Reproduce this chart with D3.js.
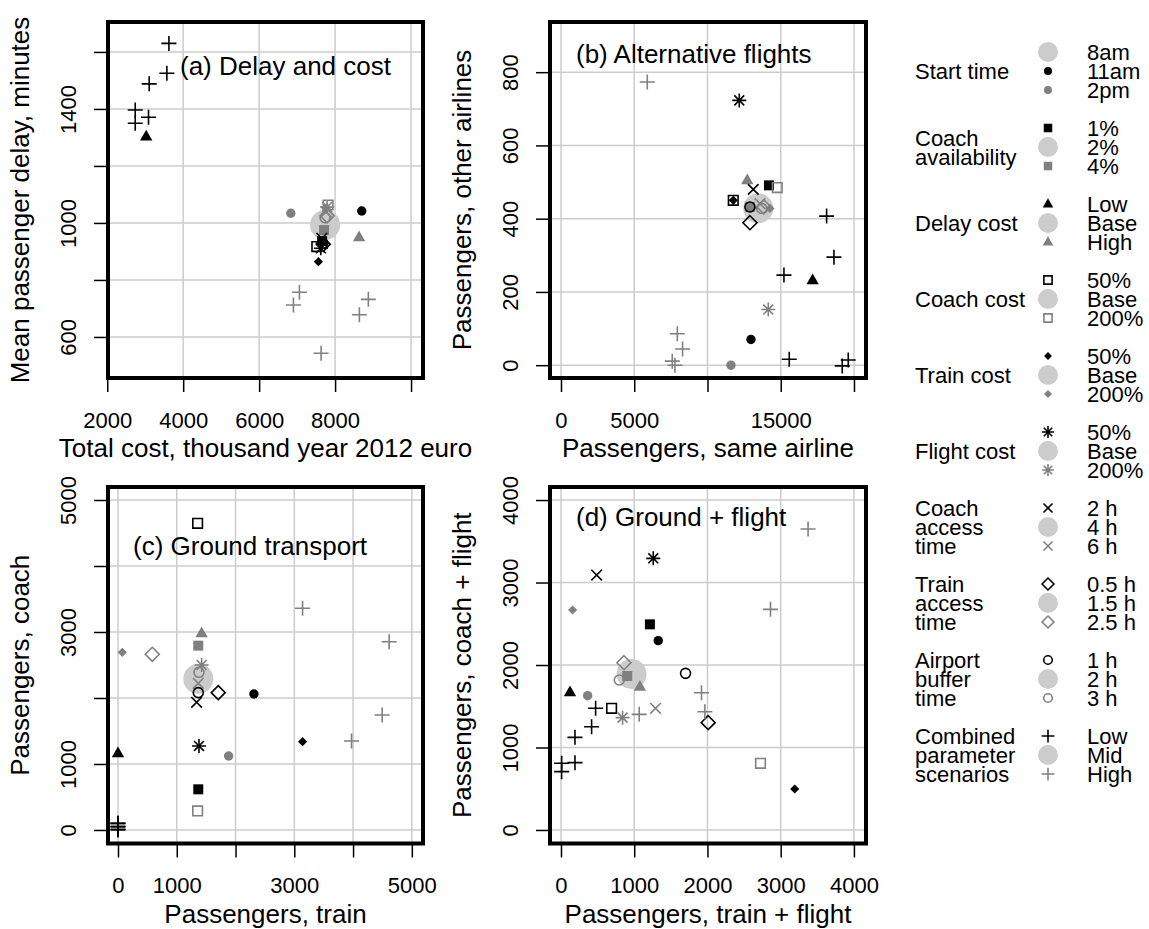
<!DOCTYPE html>
<html>
<head>
<meta charset="utf-8">
<script src="https://cdn.jsdelivr.net/npm/d3@7"></script>
<style>
body { margin: 0; background: #fff; }
svg { font-family: "Liberation Sans", Arial, Helvetica, sans-serif; }
</style>
</head>
<body>
<svg id="chart" width="1149" height="929"></svg>
<script>
////////// Data
var panelTitles = ["(a) Delay and cost", "(b) Alternative flights", "(c) Ground transport", "(d) Ground + flight"];
var xTitles = ["Total cost, thousand year 2012 euro", "Passengers, same airline", "Passengers, train", "Passengers, train + flight"];
var yTitles = ["Mean passenger delay, minutes", "Passengers, other airlines", "Passengers, coach", "Passengers, coach + flight"];

var xLims = [[2020, 10315], [-750, 20820], [-170, 5190], [-150, 4165]];
var yLims = [[456, 1705], [-35, 937], [-205, 5197], [-164, 4158]];

var xTicks = [[2000, 4000, 6000, 8000, 10000], [0, 5000, 10000, 15000, 20000], [0, 1000, 2000, 3000, 4000, 5000], [0, 1000, 2000, 3000, 4000]];
var xTickLabels = [["2000", "4000", "6000", "8000", ""], ["0", "5000", "", "15000", ""], ["0", "1000", "", "3000", "", "5000"], ["0", "1000", "2000", "3000", "4000"]];
var yTicks = [[600, 800, 1000, 1200, 1400, 1600], [0, 200, 400, 600, 800], [0, 1000, 2000, 3000, 4000, 5000], [0, 1000, 2000, 3000, 4000]];
var yTickLabels = [["600", "", "1000", "", "1400", ""], ["0", "200", "400", "600", "800"], ["0", "1000", "", "3000", "", "5000"], ["0", "1000", "2000", "3000", "4000"]];

// [scenario, x, y]
var pointsA = [
  ["base", 7737, 993],
  ["start11", 8702, 1042], ["start14", 6834, 1034],
  ["avail1", 7658, 936], ["avail4", 7710, 975],
  ["delayLow", 3026, 1303], ["delayHigh", 8632, 950],
  ["coach50", 7518, 917], ["coach200", 7816, 1063],
  ["train50", 7561, 864], ["train200", 7763, 1053],
  ["flight50", 7624, 911], ["flight200", 7790, 1056],
  ["cacc2", 7650, 946], ["cacc6", 7763, 1039],
  ["tacc05", 7690, 925], ["tacc25", 7790, 1025],
  ["buf1", 7676, 929], ["buf3", 7737, 1018],
  ["comboLow", 3624, 1630], ["comboLow", 3570, 1525], ["comboLow", 3105, 1488],
  ["comboLow", 2737, 1396], ["comboLow", 2737, 1350], ["comboLow", 3087, 1371],
  ["comboHigh", 7061, 757], ["comboHigh", 6903, 712], ["comboHigh", 8640, 678],
  ["comboHigh", 8876, 732], ["comboHigh", 7632, 543]
];
var pointsB = [
  ["base", 13465, 428],
  ["start11", 12967, 70], ["start14", 11602, 0],
  ["avail1", 14195, 491], ["avail4", 12898, 432],
  ["delayLow", 17177, 232], ["delayHigh", 12714, 505],
  ["coach50", 11760, 450], ["coach200", 14763, 485],
  ["train50", 11760, 450], ["train200", 14263, 428],
  ["flight50", 12169, 723], ["flight200", 14149, 152],
  ["cacc2", 13125, 480], ["cacc6", 13581, 441],
  ["tacc05", 12898, 389], ["tacc25", 13854, 432],
  ["buf1", 12898, 432], ["buf3", 13697, 428],
  ["comboLow", 18131, 407], ["comboLow", 18631, 295], ["comboLow", 15219, 246],
  ["comboLow", 15581, 16], ["comboLow", 19198, -2], ["comboLow", 19608, 14],
  ["comboHigh", 5890, 773], ["comboHigh", 7940, 86], ["comboHigh", 8300, 44],
  ["comboHigh", 7596, 11], ["comboHigh", 7780, 0]
];
var pointsC = [
  ["base", 1366, 2288],
  ["start11", 2313, 2060], ["start14", 1882, 1121],
  ["avail1", 1366, 616], ["avail4", 1366, 2793],
  ["delayLow", 0, 1162], ["delayHigh", 1423, 2980],
  ["coach50", 1355, 4647], ["coach200", 1355, 288],
  ["train50", 3141, 1338], ["train200", 73, 2692],
  ["flight50", 1378, 1273], ["flight200", 1423, 2500],
  ["cacc2", 1338, 1934], ["cacc6", 1366, 2222],
  ["tacc05", 1706, 2081], ["tacc25", 583, 2662],
  ["buf1", 1366, 2081], ["buf3", 1378, 2389],
  ["comboLow", 0, 100], ["comboLow", 0, 100], ["comboLow", 0, 50],
  ["comboLow", 0, 50], ["comboLow", 0, 10], ["comboLow", 0, 0],
  ["comboHigh", 3141, 3359], ["comboHigh", 4614, 2853], ["comboHigh", 4495, 1742],
  ["comboHigh", 3974, 1348]
];
var pointsD = [
  ["base", 964, 1891],
  ["start11", 1328, 2295], ["start14", 364, 1628],
  ["avail1", 1214, 2493], ["avail4", 905, 1867],
  ["delayLow", 123, 1669], ["delayHigh", 1078, 1737],
  ["coach50", 691, 1475], ["coach200", 2724, 808],
  ["train50", 3192, 497], ["train200", 159, 2667],
  ["flight50", 1260, 3293], ["flight200", 841, 1362],
  ["cacc2", 487, 3091], ["cacc6", 1291, 1475],
  ["tacc05", 2010, 1301], ["tacc25", 860, 2028],
  ["buf1", 1701, 1899], ["buf3", 796, 1818],
  ["comboLow", 473, 1475], ["comboLow", 418, 1252], ["comboLow", 191, 1123],
  ["comboLow", 9, 808], ["comboLow", 191, 816], ["comboLow", 9, 707],
  ["comboHigh", 3374, 3648], ["comboHigh", 2861, 2675], ["comboHigh", 1919, 1664],
  ["comboHigh", 1965, 1434], ["comboHigh", 1068, 1402]
];
var panelPoints = [pointsA, pointsB, pointsC, pointsD];

var legendGroups = [["Start time"], ["Coach", "availability"], ["Delay cost"], ["Coach cost"], ["Train cost"],
  ["Flight cost"], ["Coach", "access", "time"], ["Train", "access", "time"], ["Airport", "buffer", "time"],
  ["Combined", "parameter", "scenarios"]];
var legendValues = [["8am", "11am", "2pm"], ["1%", "2%", "4%"], ["Low", "Base", "High"], ["50%", "Base", "200%"],
  ["50%", "Base", "200%"], ["50%", "Base", "200%"], ["2 h", "4 h", "6 h"], ["0.5 h", "1.5 h", "2.5 h"],
  ["1 h", "2 h", "3 h"], ["Low", "Mid", "High"]];
var legendKeys = [["base", "start11", "start14"], ["avail1", "base", "avail4"], ["delayLow", "base", "delayHigh"],
  ["coach50", "base", "coach200"], ["train50", "base", "train200"], ["flight50", "base", "flight200"],
  ["cacc2", "base", "cacc6"], ["tacc05", "base", "tacc25"], ["buf1", "base", "buf3"],
  ["comboLow", "base", "comboHigh"]];

////////// Styles
var BLACK = "#000000", GREY = "#808080", LIGHT = "#cccccc", GRID = "#cccccc";
var markStyle = {
  base:      { shape: "dot", s: 15, col: LIGHT },
  start11:   { shape: "dot", s: 4.7, col: BLACK },
  start14:   { shape: "dot", s: 4.7, col: GREY },
  avail1:    { shape: "square", s: 5, col: BLACK },
  avail4:    { shape: "square", s: 5, col: GREY },
  delayLow:  { shape: "tri", s: 6.2, col: BLACK },
  delayHigh: { shape: "tri", s: 6.2, col: GREY },
  coach50:   { shape: "box", s: 4.8, col: BLACK },
  coach200:  { shape: "box", s: 4.8, col: GREY },
  train50:   { shape: "diamond", s: 4.6, col: BLACK },
  train200:  { shape: "diamond", s: 4.6, col: GREY },
  flight50:  { shape: "star", s: 7, col: BLACK },
  flight200: { shape: "star", s: 7, col: GREY },
  cacc2:     { shape: "cross", s: 5.3, col: BLACK },
  cacc6:     { shape: "cross", s: 5.3, col: GREY },
  tacc05:    { shape: "odiamond", s: 7, col: BLACK },
  tacc25:    { shape: "odiamond", s: 7, col: GREY },
  buf1:      { shape: "ring", s: 5, col: BLACK },
  buf3:      { shape: "ring", s: 5, col: GREY },
  comboLow:  { shape: "plus", s: 7.5, col: BLACK },
  comboHigh: { shape: "plus", s: 7.5, col: GREY }
};
var filledShapes = ["dot", "square", "tri", "diamond"];

var panels = [
  { left: 108, top: 22, right: 423, bottom: 378, tx: 72, ty: 52.5 },
  { left: 550, top: 22, right: 866, bottom: 378, tx: 26, ty: 40.5 },
  { left: 108, top: 487, right: 423, bottom: 843.5, tx: 25, ty: 67.5 },
  { left: 550, top: 487, right: 866, bottom: 843.5, tx: 26, ty: 39 }
];

function shapePath(shape, s) {
  var p = d3.path();
  var d;
  if (shape == "dot" || shape == "ring") {
    p.arc(0, 0, s, 0, 2 * Math.PI);
  } else if (shape == "square" || shape == "box") {
    p.rect(-s, -s, 2 * s, 2 * s);
  } else if (shape == "tri") {
    p.moveTo(0, -s * 1.1); p.lineTo(s, s * 0.65); p.lineTo(-s, s * 0.65); p.closePath();
  } else if (shape == "diamond" || shape == "odiamond") {
    p.moveTo(0, -s); p.lineTo(s, 0); p.lineTo(0, s); p.lineTo(-s, 0); p.closePath();
  } else if (shape == "plus") {
    p.moveTo(-s, 0); p.lineTo(s, 0); p.moveTo(0, -s); p.lineTo(0, s);
  } else if (shape == "cross") {
    p.moveTo(-s, -s); p.lineTo(s, s); p.moveTo(-s, s); p.lineTo(s, -s);
  } else if (shape == "star") {
    d = s * Math.SQRT1_2;
    p.moveTo(-s, 0); p.lineTo(s, 0); p.moveTo(0, -s); p.lineTo(0, s);
    p.moveTo(-d, -d); p.lineTo(d, d); p.moveTo(-d, d); p.lineTo(d, -d);
  }
  return p.toString();
}

function drawMark(g, key, x, y, scale) {
  var st = markStyle[key];
  var s = st.s * scale;
  var filled = filledShapes.indexOf(st.shape) >= 0;
  g.append("path")
    .attr("d", shapePath(st.shape, s))
    .attr("transform", "translate(" + x + "," + y + ")")
    .attr("fill", filled ? st.col : "none")
    .attr("stroke", filled ? "none" : st.col)
    .attr("stroke-width", 1.6);
}

var svg = d3.select("#chart");

////////// Panels
panels.forEach(function (pn, i) {
  var x = d3.scaleLinear().domain(xLims[i]).range([pn.left, pn.right]);
  var y = d3.scaleLinear().domain(yLims[i]).range([pn.bottom, pn.top]);
  var g = svg.append("g");

  // grid
  g.selectAll(".vgrid").data(xTicks[i]).enter().append("line")
    .attr("x1", function (d) { return x(d); }).attr("x2", function (d) { return x(d); })
    .attr("y1", pn.top).attr("y2", pn.bottom)
    .attr("stroke", GRID).attr("stroke-width", 1.5);
  g.selectAll(".hgrid").data(yTicks[i]).enter().append("line")
    .attr("y1", function (d) { return y(d); }).attr("y2", function (d) { return y(d); })
    .attr("x1", pn.left).attr("x2", pn.right)
    .attr("stroke", GRID).attr("stroke-width", 1.5);

  // points
  var pts = panelPoints[i];
  pts.forEach(function (p) {
    drawMark(g, p[0], x(p[1]), y(p[2]), 1);
  });

  // axes
  var xAxis = d3.axisBottom(x).tickValues(xTicks[i]).tickSize(14).tickPadding(20)
    .tickFormat(function (d, k) { return xTickLabels[i][k]; });
  var gx = g.append("g").attr("transform", "translate(0," + pn.bottom + ")").call(xAxis);
  gx.select(".domain").remove();
  gx.selectAll(".tick line").attr("stroke-width", 1.5);
  gx.selectAll(".tick text").attr("font-size", 22).attr("font-family", null).attr("fill", "#000");

  var yAxis = d3.axisLeft(y).tickValues(yTicks[i]).tickSize(14)
    .tickFormat(function (d, k) { return yTickLabels[i][k]; });
  var gy = g.append("g").attr("transform", "translate(" + pn.left + ",0)").call(yAxis);
  gy.select(".domain").remove();
  gy.selectAll(".tick line").attr("stroke-width", 1.5);
  gy.selectAll(".tick text")
    .attr("x", 0).attr("y", 0).attr("dy", null)
    .attr("text-anchor", "middle")
    .attr("transform", "translate(-32,0) rotate(-90)")
    .attr("font-size", 22).attr("font-family", null).attr("fill", "#000");

  // frame
  g.append("rect")
    .attr("x", pn.left).attr("y", pn.top)
    .attr("width", pn.right - pn.left).attr("height", pn.bottom - pn.top)
    .attr("fill", "none").attr("stroke", "#000").attr("stroke-width", 4);

  // titles
  g.append("text")
    .attr("x", pn.left + pn.tx).attr("y", pn.top + pn.ty)
    .attr("font-size", 26)
    .text(panelTitles[i]);
  g.append("text")
    .attr("x", (pn.left + pn.right) / 2).attr("y", pn.bottom + 79)
    .attr("text-anchor", "middle").attr("font-size", 26)
    .text(xTitles[i]);
  g.append("text")
    .attr("transform", "translate(" + (pn.left - 79) + "," + ((pn.top + pn.bottom) / 2) + ") rotate(-90)")
    .attr("text-anchor", "middle").attr("font-size", 26)
    .text(yTitles[i]);
});

////////// Legend
var legend = svg.append("g");
var rowGap = 19, groupGap = 76, legendTop = 52;
legendGroups.forEach(function (lines, i) {
  var y0 = legendTop + i * groupGap;
  var off = lines.length == 1 ? rowGap : (lines.length == 2 ? rowGap / 2 : 0);
  lines.forEach(function (t, k) {
    legend.append("text")
      .attr("x", 915).attr("y", y0 + off + k * rowGap + 8)
      .attr("font-size", 22).text(t);
  });
  legendKeys[i].forEach(function (key, k) {
    var sc = key == "base" ? 0.67 : 0.85;
    drawMark(legend, key, 1048, y0 + k * rowGap, sc);
    legend.append("text")
      .attr("x", 1087).attr("y", y0 + k * rowGap + 8)
      .attr("font-size", 22).text(legendValues[i][k]);
  });
});
</script>
</body>
</html>
